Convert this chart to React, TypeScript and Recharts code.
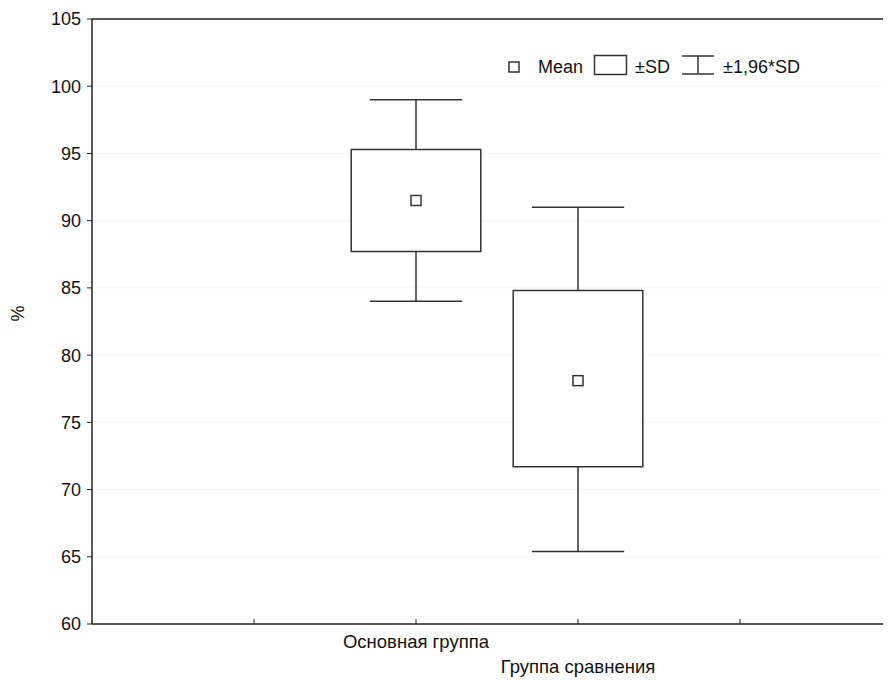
import React from "react"
import {
  ComposedChart,
  Scatter,
  XAxis,
  YAxis,
  CartesianGrid,
  ReferenceArea,
  ReferenceLine,
} from "recharts"

// groups on the x axis (placed at 2 and 3 of a 0..5 axis)
const groups = ["Основная группа", "Группа сравнения"]
const groupPos = [2, 3]
const means = [91.5, 78.1]
const sdLow = [87.7, 71.7]
const sdHigh = [95.3, 84.8]
const ciLow = [84.0, 65.4]
const ciHigh = [99.0, 91.0]

const yTicks = [60, 65, 70, 75, 80, 85, 90, 95, 100, 105]
const xTicks = [1, 2, 3, 4]

const FONT = "'Liberation Sans', Arial, sans-serif"
const LINE = "#333"

const meanData = groups.map((name, i) => ({ name, x: groupPos[i], mean: means[i] }))

const MeanSquare = (props: any) => {
  const { cx, cy } = props
  return <rect x={cx - 5} y={cy - 5} width={10} height={10} fill="#fff" stroke={LINE} strokeWidth={1.5} />
}

const GroupTick = (props: any) => {
  const { x, y, payload } = props
  const i = groupPos.indexOf(payload.value)
  if (i < 0) return null
  return (
    <text x={x} y={y + 24 + i * 25} textAnchor="middle" fontSize={18.5} fill="#111" fontFamily={FONT}>
      {groups[i]}
    </text>
  )
}

function LegendBox() {
  return (
    <svg width={320} height={30} style={{ position: "absolute", left: 492, top: 44 }}>
      <g fontFamily={FONT} fontSize={18} fill="#111">
        <rect x={9} y={10} width={10} height={10} fill="#fff" stroke={LINE} strokeWidth={1.5} />
        <text x={38} y={21}>Mean</text>
        <rect x={94.5} y={3.5} width={32} height={19} fill="#fff" stroke={LINE} strokeWidth={1.5} />
        <text x={135} y={21}>±SD</text>
        <line x1={182} x2={214} y1={4} y2={4} stroke={LINE} strokeWidth={1.5} />
        <line x1={182} x2={214} y1={22} y2={22} stroke={LINE} strokeWidth={1.5} />
        <line x1={198} x2={198} y1={4} y2={22} stroke={LINE} strokeWidth={1.5} />
        <text x={223} y={21}>±1,96*SD</text>
      </g>
    </svg>
  )
}

export default function App() {
  return (
    <div style={{ position: "relative", width: 883, height: 672, overflow: "hidden", fontFamily: FONT }}>
      <ComposedChart
        width={896}
        height={672}
        data={meanData}
        margin={{ top: 10, right: 2, bottom: 0, left: 0 }}
      >
        <CartesianGrid xAxisId="b" vertical={false} stroke="#f7f7f7" />
        <XAxis
          xAxisId="t"
          orientation="top"
          type="number"
          dataKey="x"
          domain={[0, 5]}
          ticks={xTicks}
          height={1}
          tick={false}
          tickSize={-5}
          axisLine={{ stroke: "#222", strokeWidth: 1.5 }}
          tickLine={{ stroke: "#222" }}
        />
        <XAxis
          xAxisId="b"
          type="number"
          dataKey="x"
          domain={[0, 5]}
          ticks={xTicks}
          height={56}
          tickSize={-5}
          tickMargin={5}
          tick={<GroupTick />}
          axisLine={{ stroke: "#222", strokeWidth: 1.5 }}
          tickLine={{ stroke: "#222" }}
        />
        <YAxis
          type="number"
          domain={[60, 105]}
          ticks={yTicks}
          width={84}
          tickSize={5}
          tickMargin={6}
          tick={{ fontSize: 18, fill: "#111", fontFamily: FONT }}
          axisLine={{ stroke: "#222", strokeWidth: 1.5 }}
          tickLine={{ stroke: "#222" }}
          label={{ value: "%", angle: -90, position: "insideLeft", offset: 10, fontSize: 18, fill: "#111" }}
        />
        {groups.map((g, i) => (
          <ReferenceArea
            key={`box-${g}`}
            xAxisId="b"
            x1={groupPos[i] - 0.4}
            x2={groupPos[i] + 0.4}
            y1={sdLow[i]}
            y2={sdHigh[i]}
            fill="#fff"
            fillOpacity={1}
            stroke={LINE}
            strokeWidth={1.5}
          />
        ))}
        {groups.map((g, i) => (
          <ReferenceLine
            key={`wu-${g}`}
            xAxisId="b"
            segment={[{ x: groupPos[i], y: sdHigh[i] }, { x: groupPos[i], y: ciHigh[i] }]}
            stroke={LINE}
            strokeWidth={1.5}
          />
        ))}
        {groups.map((g, i) => (
          <ReferenceLine
            key={`wl-${g}`}
            xAxisId="b"
            segment={[{ x: groupPos[i], y: sdLow[i] }, { x: groupPos[i], y: ciLow[i] }]}
            stroke={LINE}
            strokeWidth={1.5}
          />
        ))}
        {groups.map((g, i) => (
          <ReferenceLine
            key={`cu-${g}`}
            xAxisId="b"
            segment={[{ x: groupPos[i] - 0.285, y: ciHigh[i] }, { x: groupPos[i] + 0.285, y: ciHigh[i] }]}
            stroke={LINE}
            strokeWidth={1.5}
          />
        ))}
        {groups.map((g, i) => (
          <ReferenceLine
            key={`cl-${g}`}
            xAxisId="b"
            segment={[{ x: groupPos[i] - 0.285, y: ciLow[i] }, { x: groupPos[i] + 0.285, y: ciLow[i] }]}
            stroke={LINE}
            strokeWidth={1.5}
          />
        ))}
        <Scatter xAxisId="b" dataKey="mean" shape={<MeanSquare />} isAnimationActive={false} />
      </ComposedChart>
      <LegendBox />
    </div>
  )
}
